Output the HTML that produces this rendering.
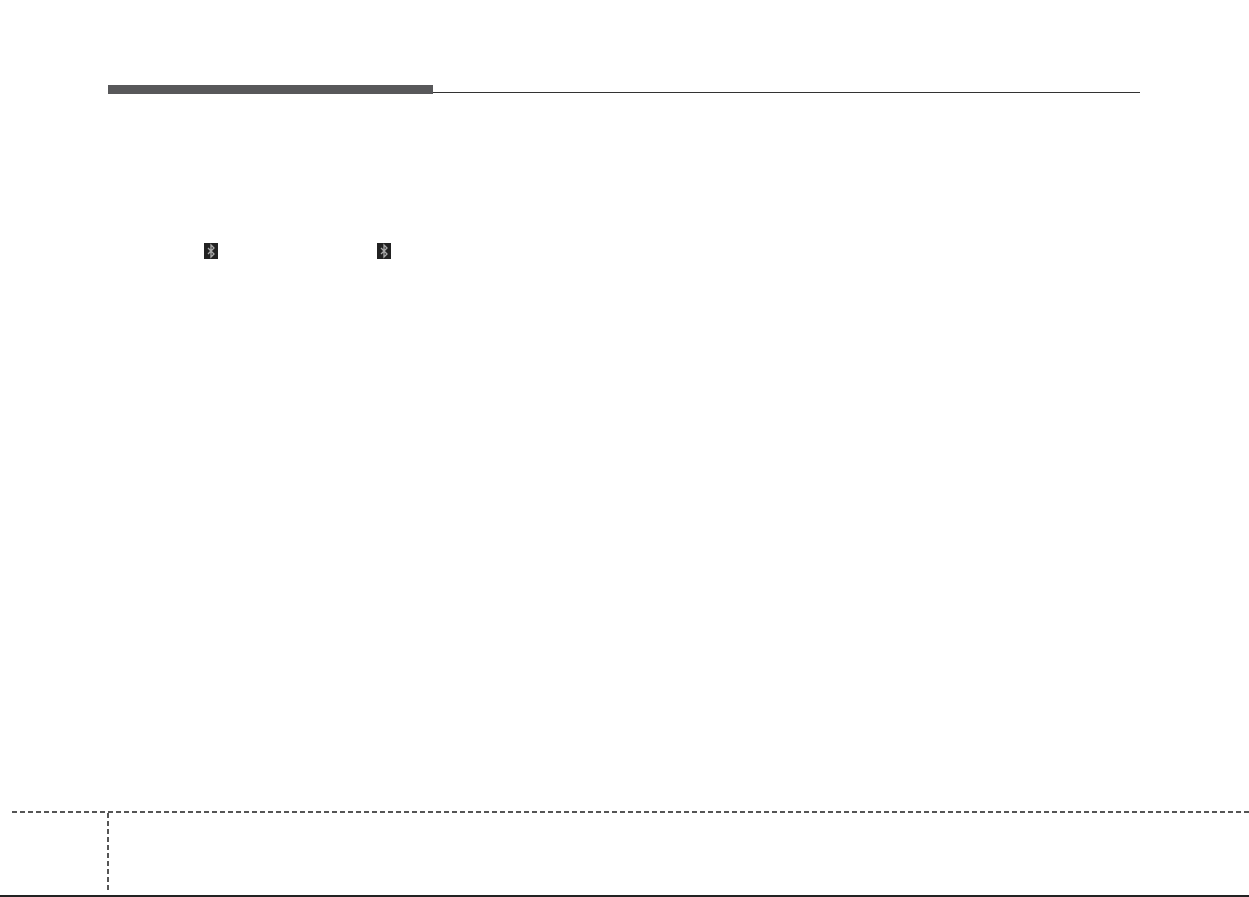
<!DOCTYPE html>
<html><head><meta charset="utf-8"><style>
html,body{margin:0;padding:0;background:#fff;}
body{width:1249px;height:897px;position:relative;overflow:hidden;}
.a{position:absolute;}
</style></head><body>
<div class="a" style="left:108px;top:85px;width:325px;height:9px;background:#58585a;"></div>
<div class="a" style="left:433px;top:92px;width:707px;height:1px;background:#333;"></div>
<div class="a" style="left:204px;top:243px;width:14px;height:16px;background:#222;">
<svg width="14" height="16" viewBox="0 0 14 16"><path d="M4 5 L10 11 L7 14 L7 2 L10 5 L4 11" stroke="#aaa" stroke-width="1.3" fill="none"/></svg></div>
<div class="a" style="left:377px;top:243px;width:14px;height:16px;background:#222;">
<svg width="14" height="16" viewBox="0 0 14 16"><path d="M4 5 L10 11 L7 14 L7 2 L10 5 L4 11" stroke="#aaa" stroke-width="1.3" fill="none"/></svg></div>
<svg class="a" style="left:0;top:0" width="1249" height="897">
<line x1="12" y1="812" x2="1249" y2="812" stroke="#555" stroke-width="2" stroke-dasharray="5,3"/>
<line x1="108" y1="813" x2="108" y2="892" stroke="#555" stroke-width="2" stroke-dasharray="5,3"/>
<line x1="0" y1="896" x2="1249" y2="896" stroke="#222" stroke-width="2"/>
</svg>
</body></html>
